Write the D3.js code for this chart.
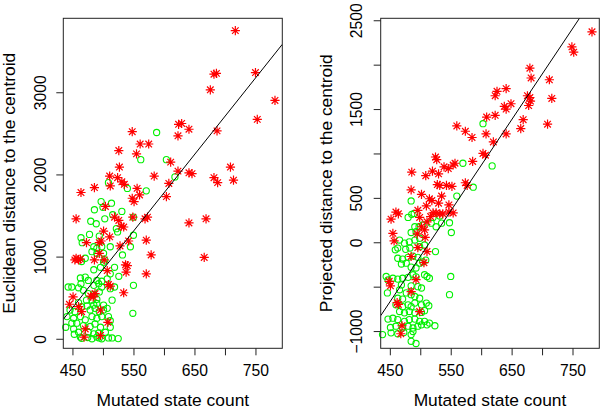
<!DOCTYPE html>
<html>
<head>
<meta charset="utf-8">
<script src="https://cdn.jsdelivr.net/npm/d3@7"></script>
<style>
  html, body { margin: 0; padding: 0; background: #fff; }
  svg { display: block; }
  text { font-family: "Liberation Sans", Arial, Helvetica, sans-serif; fill: #000; }
</style>
</head>
<body>
<svg id="chart" width="600" height="409"></svg>
<script>
// ---------------- DATA ----------------
const xTicks = [450, 500, 550, 600, 650, 700, 750];
const xTickLabels = [450, 550, 650, 750];
const euclidTicks = [0, 1000, 2000, 3000];
const euclidTickLabels = [0, 1000, 2000, 3000];
const projTicks = [-1000, -500, 0, 500, 1000, 1500, 2000, 2500];
const projTickLabels = [-1000, 0, 500, 1500, 2500];

const xTitle = "Mutated state count";
const euclidTitle = "Euclidean distance to the centroid";
const projTitle = "Projected distance to the centroid";

// regression lines: [intercept, slope]
const euclidFit = [-3817, 9.32];
const projFit = [-5290, 10.26];

// Euclidean panel: [mutated state count, distance]
const euclidGreen = [
[588,2510],[562,2180],[604,2180],[618,1970],[571,1800],[540,1830],[509,1900],[497,1670],[514,1650],[486,1570],
[531,1550],[550,1480],[516,1510],[503,1460],[480,1430],[489,1400],[522,1340],[524,1300],[550,1260],[464,1230],
[466,1170],[478,1270],[494,1250],[545,1120],[532,1020],[512,1120],[471,980],[519,870],[501,930],[526,760],
[550,650],[549,310],[515,470],[443,630],[449,630],[463,740],[460,620],[453,55],[465,5],[475,15],
[494,10],[509,10],[515,10],[525,2],[439,140],[449,190],[509,270],[507,370],
[500,1600],[485,1120],[490,1100],[498,1120],[482,1060],[490,1040],[501,1040],[465,940],[485,840],[496,870],
[503,960],[512,790],[471,750],[476,710],[490,710],[498,700],[507,730],[464,670],[468,590],[485,650],
[493,670],[498,630],[512,610],[519,630],[476,550],[485,540],[494,570],[473,470],[482,470],[490,480],
[460,440],[465,390],[474,400],[485,410],[490,430],[501,410],[446,350],[454,330],[479,350],[487,370],
[494,330],[501,350],[441,270],[452,250],[463,270],[471,230],[482,270],[490,250],[498,270],[512,220],
[457,190],[468,160],[479,150],[487,180],[496,140],[512,140],[452,120],[460,80],[476,80],[485,60],
[493,70],[504,80],[463,20],[482,0],[490,20],[498,0]
];
const euclidRed = [
[717,3750],[682,3220],[686,3230],[750,3240],[676,3030],[782,2900],[753,2670],[548,2520],[641,2550],[687,2530],
[624,2610],[629,2620],[623,2470],[561,2370],[575,2370],[526,2290],[555,2250],[527,2090],[511,1980],[611,2150],
[623,2040],[584,1980],[641,2020],[646,2010],[608,1890],[709,2090],[682,1960],[688,1900],[714,1930],[604,1730],
[464,1780],[486,1840],[524,1960],[531,1910],[535,1880],[512,1860],[556,1830],[560,1750],[548,1710],[551,1670],
[456,1460],[504,1610],[519,1480],[526,1440],[530,1370],[534,1360],[549,1480],[569,1460],[573,1480],[641,1410],
[669,1460],[501,1310],[511,1240],[473,1170],[494,1170],[497,1190],[528,1130],[542,1190],[571,1200],[456,980],
[460,960],[454,960],[463,970],[486,960],[494,1040],[502,960],[537,900],[540,890],[538,810],[579,1020],
[571,790],[666,990],[507,830],[509,660],[512,640],[534,560],[451,510],[445,420],[484,510],[487,550],
[480,520],[496,350],[508,200],[471,120],[469,20],[496,40],[460,390],[465,330]
];

// Projected panel: [mutated state count, distance]
const projGreen = [
[603,1335],[570,890],[618,860],[587,620],[560,520],[485,465],[490,325],[480,280],[486,315],[521,280],
[532,295],[548,220],[491,175],[498,175],[504,195],[518,215],[526,175],[535,215],[485,110],[493,120],
[551,110],[482,5],[491,25],[499,45],[466,25],[474,-10],[459,-85],[463,-65],[476,-80],[483,-65],
[499,-50],[507,-30],[525,-105],[463,-180],[471,-190],[480,-170],[488,-155],[496,-170],[469,-245],[477,-235],
[499,-235],[504,-220],[509,-200],[485,-280],[493,-290],[444,-385],[447,-425],[455,-405],[463,-415],[471,-405],
[480,-395],[488,-365],[493,-390],[507,-365],[511,-385],[515,-405],[550,-385],[446,-570],[469,-480],[466,-535],
[485,-490],[496,-500],[502,-515],[477,-570],[485,-590],[491,-610],[499,-630],[548,-590],[463,-630],[471,-640],
[460,-705],[471,-725],[480,-705],[485,-725],[491,-685],[502,-705],[510,-685],[514,-715],[466,-780],[474,-795],
[482,-780],[491,-795],[502,-790],[507,-770],[447,-865],[455,-855],[463,-870],[474,-890],[482,-870],[491,-865],
[499,-890],[507,-890],[515,-910],[524,-940],[451,-960],[460,-945],[471,-965],[480,-945],[488,-965],[496,-945],
[502,-930],[511,-930],[438,-1040],[452,-1020],[463,-1030],[473,-1015],[485,-1040],[488,-1005],[485,-1115],[493,-1140]
];
const projRed = [
[782,2370],[749,2200],[752,2140],[680,1960],[682,1850],[712,1830],[716,1620],[709,1330],[641,1730],[626,1700],
[623,1650],[638,1530],[641,1500],[649,1560],[676,1650],[680,1630],[681,1590],[678,1540],[669,1380],[665,1280],
[609,1410],[623,1430],[608,1220],[641,1220],[620,1130],[560,1310],[574,1250],[585,1180],[603,1000],[607,980],
[586,910],[525,960],[527,930],[539,850],[546,830],[554,870],[557,890],[520,800],[530,770],[486,790],
[509,750],[528,650],[532,640],[543,640],[552,630],[574,670],[577,640],[485,590],[502,540],[515,490],
[519,470],[535,520],[530,440],[547,420],[510,410],[460,340],[464,320],[452,260],[496,360],[521,330],
[526,330],[532,320],[537,320],[547,340],[554,330],[499,280],[517,290],[511,230],[455,100],[457,15],
[502,175],[507,140],[496,-60],[511,-105],[506,-230],[485,-160],[495,95],[493,-420],[451,-490],[449,-440],
[485,-555],[462,-680],[464,-700],[499,-780],[470,-940],[468,-1030],[508,55]
];

// ---------------- DRAW ----------------
const svg = d3.select("#chart");
svg.append("rect").attr("width", 600).attr("height", 409).attr("fill", "#fff");

const TICK_FONT = "15.7px";
const TITLE_FONT = "17.4px";
const GREEN = "#00f000";
const RED = "#ff0000";

function panel(opts) {
  const { left, right, top, bottom, xDomain, yDomain, yTicks, yLabels, yTitle, green, red, fit, id, yTitleX, yLabelOffset } = opts;
  const x = d3.scaleLinear().domain(xDomain).range([left, right]);
  const y = d3.scaleLinear().domain(yDomain).range([bottom, top]);
  const g = svg.append("g");

  svg.append("clipPath").attr("id", id).append("rect")
    .attr("x", left).attr("y", top).attr("width", right - left).attr("height", bottom - top);

  // green circles
  g.append("g").selectAll("circle").data(green).join("circle")
    .attr("cx", d => x(d[0])).attr("cy", d => y(d[1])).attr("r", 3.1)
    .attr("fill", "none").attr("stroke", GREEN).attr("stroke-width", 1.1);

  // red asterisks (plus + cross)
  const a = 4.6, b = 3.3;
  const star = `M${-a},0L${a},0M0,${-a}L0,${a}M${-b},${-b}L${b},${b}M${-b},${b}L${b},${-b}`;
  g.append("g").selectAll("path").data(red).join("path")
    .attr("transform", d => `translate(${x(d[0])},${y(d[1])})`)
    .attr("d", star).attr("fill", "none").attr("stroke", RED).attr("stroke-width", 1.2);

  // regression line
  g.append("line")
    .attr("clip-path", `url(#${id})`)
    .attr("x1", x(xDomain[0])).attr("y1", y(fit[0] + fit[1] * xDomain[0]))
    .attr("x2", x(xDomain[1])).attr("y2", y(fit[0] + fit[1] * xDomain[1]))
    .attr("stroke", "#000").attr("stroke-width", 1);

  // box
  g.append("rect").attr("x", left).attr("y", top).attr("width", right - left).attr("height", bottom - top)
    .attr("fill", "none").attr("stroke", "#222").attr("stroke-width", 1);

  // x axis
  const xa = g.append("g").attr("transform", `translate(0,${bottom})`)
    .call(d3.axisBottom(x).tickValues(xTicks).tickSize(7)
      .tickFormat(d => xTickLabels.includes(d) ? String(d) : ""));
  xa.attr("font-family", null).attr("font-size", null);
  xa.select(".domain").remove();
  xa.selectAll("line").attr("stroke", "#222");
  xa.selectAll("text").attr("y", 28).attr("dy", null)
    .style("font-size", TICK_FONT).attr("fill", "#000");

  // y axis
  const ya = g.append("g").attr("transform", `translate(${left},0)`)
    .call(d3.axisLeft(y).tickValues(yTicks).tickSize(7)
      .tickFormat(d => yLabels.includes(d) ? (d < 0 ? "\u2212" + Math.abs(d) : String(d)) : ""));
  ya.attr("font-family", null).attr("font-size", null);
  ya.select(".domain").remove();
  ya.selectAll("line").attr("stroke", "#222");
  ya.selectAll("text").attr("x", null).attr("dy", null)
    .attr("text-anchor", "middle")
    .attr("transform", `translate(${-yLabelOffset},0) rotate(-90)`)
    .style("font-size", TICK_FONT).attr("fill", "#000");

  // titles
  g.append("text").attr("x", (left + right) / 2).attr("y", 406)
    .attr("text-anchor", "middle").style("font-size", TITLE_FONT).text(xTitle);
  g.append("text").attr("transform", `translate(${yTitleX},${(top + bottom) / 2}) rotate(-90)`)
    .attr("text-anchor", "middle").style("font-size", TITLE_FONT).text(yTitle);
}

panel({
  id: "clipL", left: 63.3, right: 282.3, top: 18.3, bottom: 348.3,
  xDomain: [435, 794], yDomain: [-116, 3900],
  yTicks: euclidTicks, yLabels: euclidTickLabels, yTitle: euclidTitle,
  green: euclidGreen, red: euclidRed, fit: euclidFit, yTitleX: 15, yLabelOffset: 17.3
});
panel({
  id: "clipR", left: 380.7, right: 599.3, top: 18.3, bottom: 348.3,
  xDomain: [435, 794], yDomain: [-1194, 2522],
  yTicks: projTicks, yLabels: projTickLabels, yTitle: projTitle,
  green: projGreen, red: projRed, fit: projFit, yTitleX: 331.5, yLabelOffset: 18.5
});
</script>
</body>
</html>
